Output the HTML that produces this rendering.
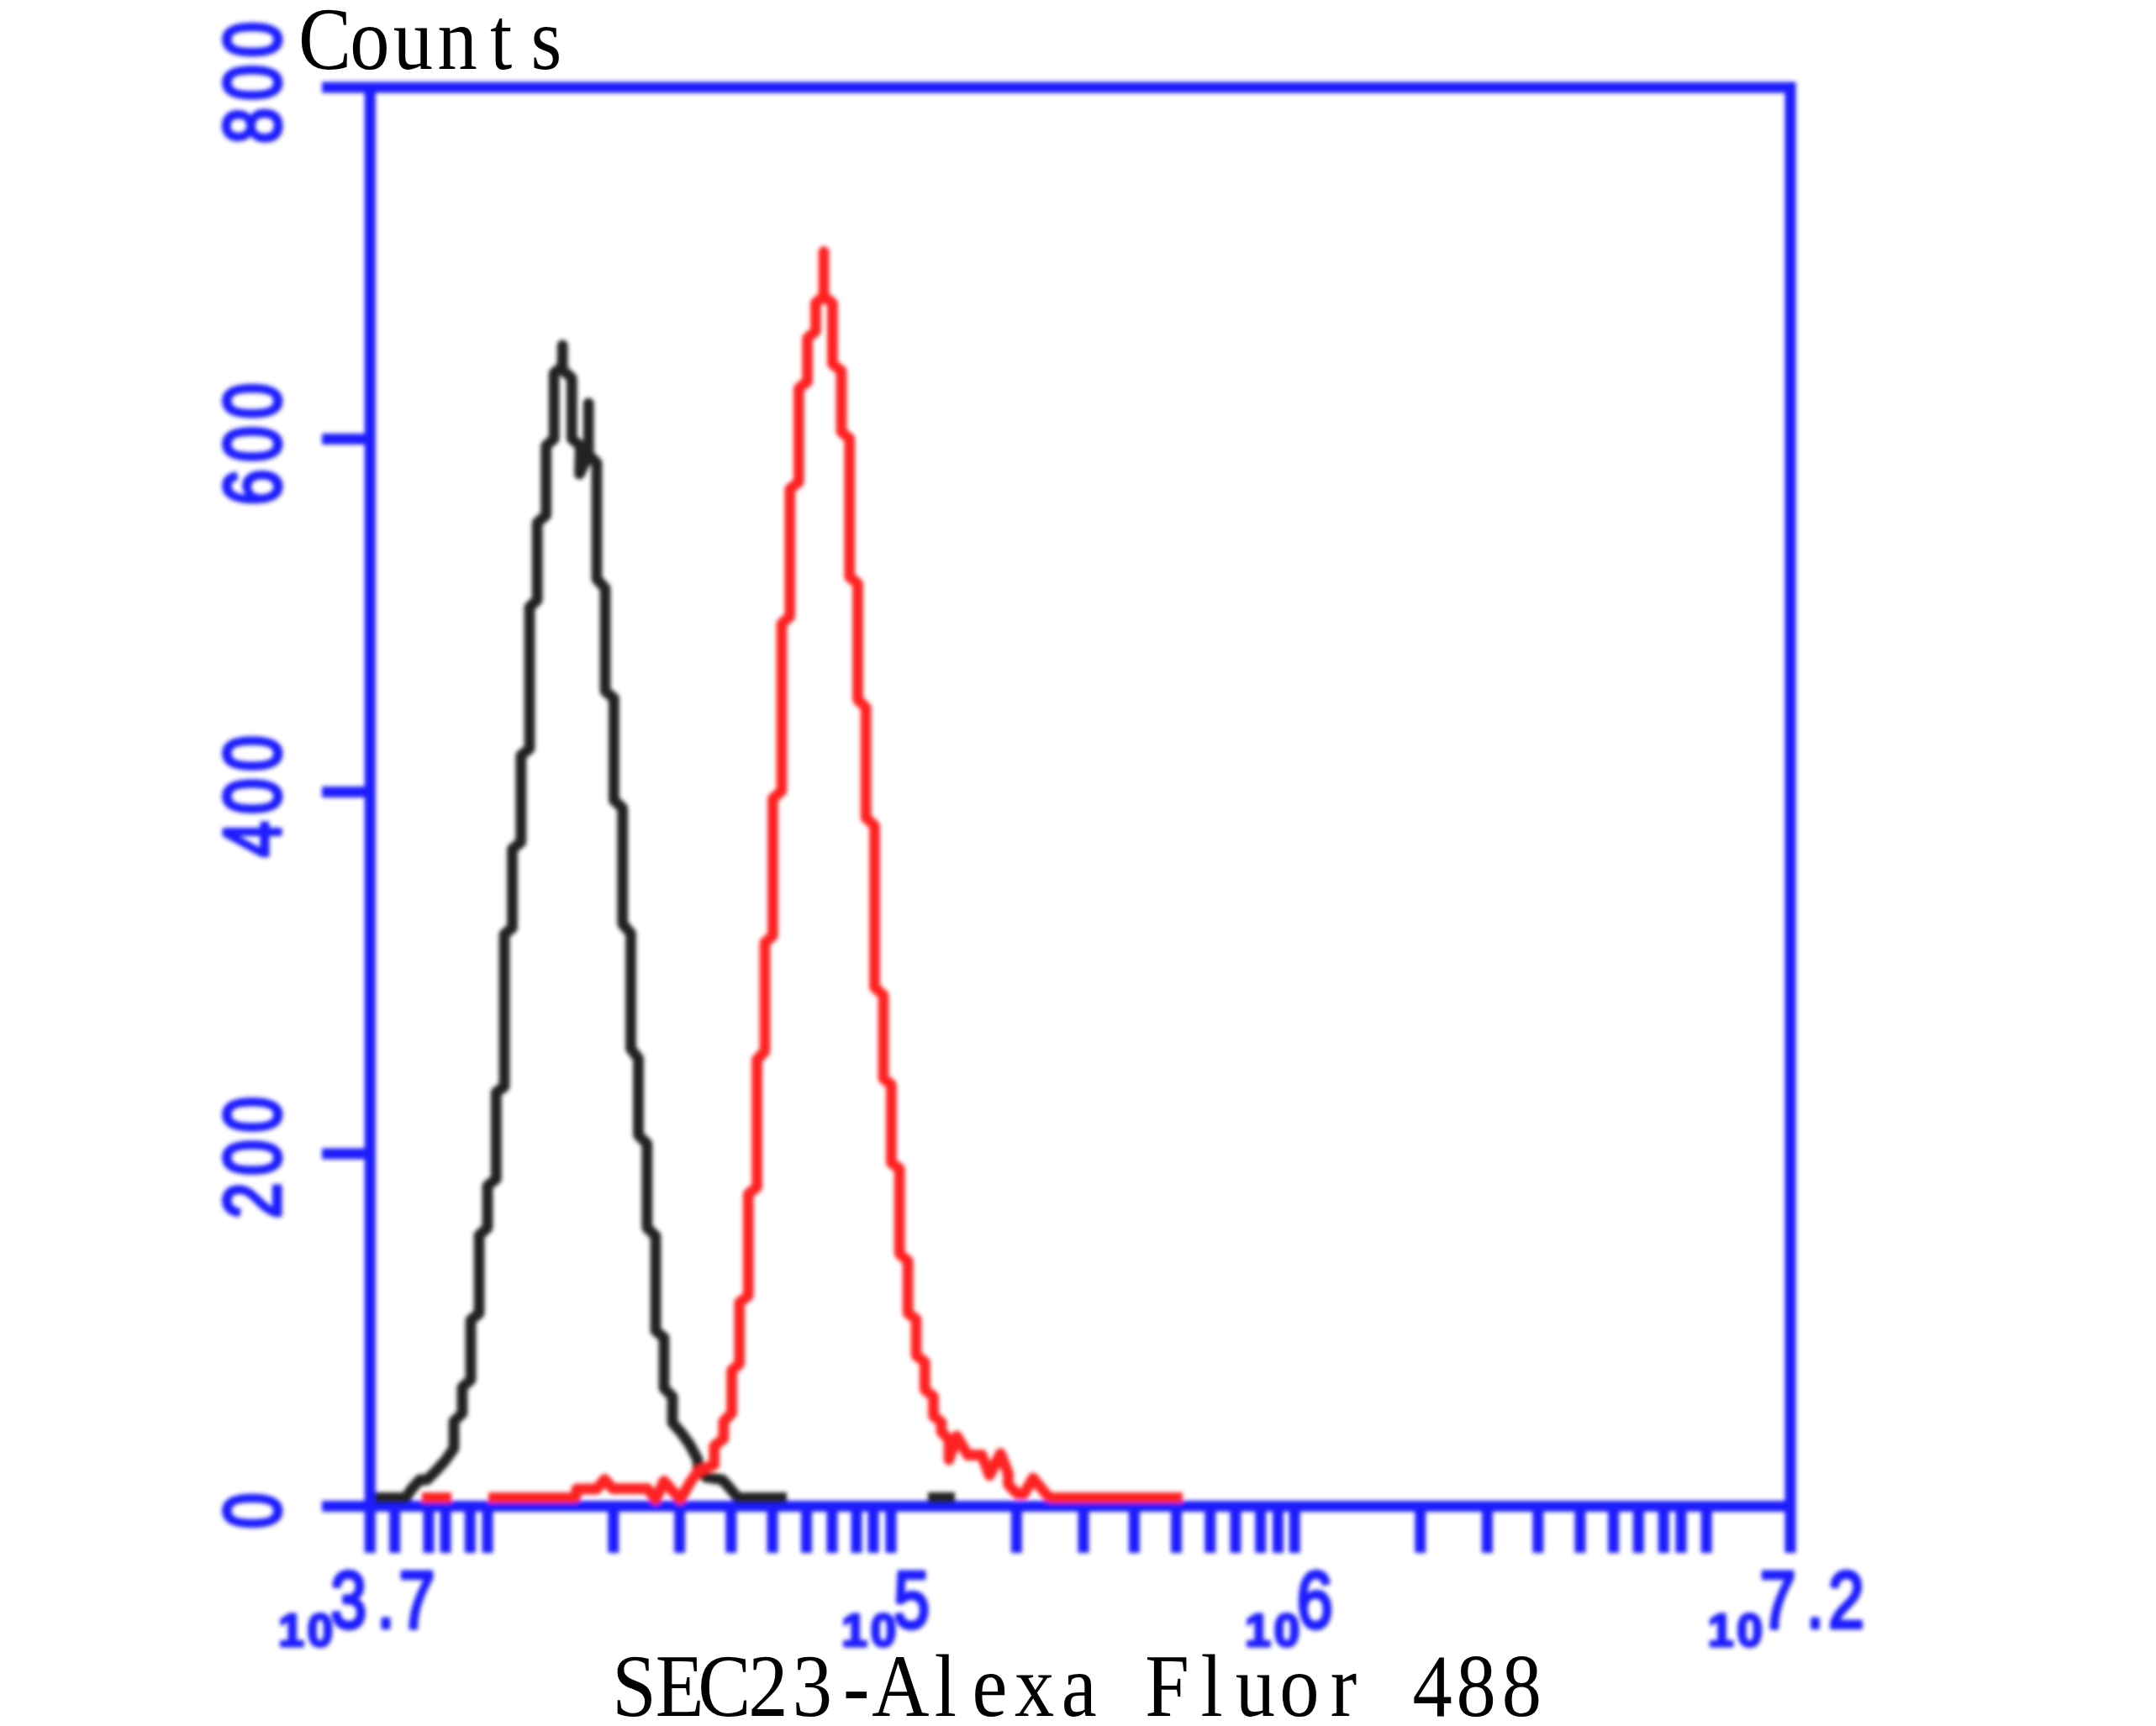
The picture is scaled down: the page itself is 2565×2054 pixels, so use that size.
<!DOCTYPE html>
<html lang="en"><head><meta charset="utf-8"><title>SEC23 flow cytometry histogram</title>
<style>
html,body{margin:0;padding:0;background:#fff;}
body{width:2565px;height:2054px;overflow:hidden;}
svg{display:block;}
.lab{font-family:"Liberation Sans",sans-serif;fill:#1c1cff;stroke:#1c1cff;stroke-width:4.5px;stroke-linejoin:round;}
.sm{font-family:"Liberation Sans",sans-serif;font-weight:bold;fill:#1c1cff;stroke:#1c1cff;stroke-width:3px;stroke-linejoin:round;}
.ttl{font-family:"Liberation Serif",serif;fill:#000;}
</style></head><body>
<svg width="2565" height="2054" viewBox="0 0 2565 2054">
<defs><filter id="soft" x="-2%" y="-2%" width="104%" height="104%"><feGaussianBlur stdDeviation="2.7"/></filter></defs>
<rect width="2565" height="2054" fill="#fff"/>
<g filter="url(#soft)">
<g stroke="#1c1cff" fill="none" stroke-linecap="butt">
<path d="M383.0,104.0 H2130.0 V1848.0" stroke-width="13.2" stroke-linejoin="miter"/>
<path d="M440.3,104.0 V1848.0" stroke-width="13.2"/>
<path d="M383.0,1792.5 H2130.0" stroke-width="13.2"/>
<path d="M383.0,522.6 H440.3M383.0,942.4 H440.3M383.0,1372.9 H440.3" stroke-width="13.0"/>
<path d="M469.6,1792.5 V1848.0M510,1792.5 V1848.0M530,1792.5 V1848.0M559.3,1792.5 V1848.0M580,1792.5 V1848.0M729.8,1792.5 V1848.0M808.6,1792.5 V1848.0M869.8,1792.5 V1848.0M919,1792.5 V1848.0M959.5,1792.5 V1848.0M990,1792.5 V1848.0M1019,1792.5 V1848.0M1039,1792.5 V1848.0M1060,1792.5 V1848.0M1209.4,1792.5 V1848.0M1289,1792.5 V1848.0M1349.4,1792.5 V1848.0M1399.5,1792.5 V1848.0M1439.8,1792.5 V1848.0M1469.9,1792.5 V1848.0M1499.7,1792.5 V1848.0M1520.5,1792.5 V1848.0M1540.2,1792.5 V1848.0M1689.8,1792.5 V1848.0M1769.4,1792.5 V1848.0M1829.8,1792.5 V1848.0M1879.9,1792.5 V1848.0M1919.6,1792.5 V1848.0M1949.3,1792.5 V1848.0M1979.2,1792.5 V1848.0M2000,1792.5 V1848.0M2030.2,1792.5 V1848.0" stroke-width="13.0"/>
</g>
<polyline points="446.0,1782.3 483.0,1782.3 488.4,1773.6 499.6,1761.0 508.0,1761.0 519.0,1750.0 530.2,1737.4 540.0,1723.5 540.0,1691.5 549.9,1682.0 549.9,1651.0 560.0,1642.0 560.0,1571.0 570.0,1563.0 570.0,1470.0 580.0,1461.0 580.0,1411.0 590.3,1403.0 590.3,1300.0 600.0,1293.0 600.0,1112.0 609.5,1104.0 609.5,1010.5 619.8,1002.0 619.8,899.0 630.0,891.0 630.0,722.5 639.2,714.0 639.2,622.0 649.7,613.0 649.7,530.5 659.2,522.0 659.2,444.0 669.2,436.0 669.2,411.0 669.2,440.0 680.3,450.0 680.3,522.0 690.5,531.0 689.5,564.0 700.2,541.0 700.2,480.0 700.2,541.0 710.0,551.0 710.0,689.0 720.0,700.0 720.0,822.6 730.4,831.0 730.4,952.0 740.7,961.8 740.7,1099.5 750.5,1110.7 750.5,1248.0 759.5,1259.5 759.5,1351.0 769.8,1361.0 769.8,1461.0 780.0,1471.0 780.0,1583.7 790.0,1592.0 790.0,1652.0 800.0,1662.0 800.0,1693.0 810.8,1705.4 820.5,1719.0 830.3,1737.4 830.3,1748.5 840.0,1758.0 859.5,1761.0 869.2,1772.0 877.6,1782.3 936.0,1782.3" fill="none" stroke="#202020" stroke-width="12.8" stroke-linejoin="round" stroke-linecap="butt" />
<polyline points="1104.0,1782.3 1136.0,1782.3" fill="none" stroke="#202020" stroke-width="12.8" stroke-linejoin="round" stroke-linecap="butt" />
<polyline points="502.0,1782.3 537.0,1782.3" fill="none" stroke="#ff2222" stroke-width="12.8" stroke-linejoin="round" stroke-linecap="butt" />
<polyline points="581.0,1782.3 684.6,1782.3 686.0,1772.0 709.7,1772.0 719.5,1760.5 728.7,1771.5 770.4,1771.5 780.0,1784.7 790.0,1762.4 809.4,1784.7 820.5,1765.0 830.0,1751.0 849.7,1743.0 849.7,1720.7 860.9,1712.0 860.9,1691.5 870.6,1681.7 870.6,1631.0 879.7,1622.7 879.7,1550.0 890.3,1542.0 890.3,1421.0 900.6,1412.6 900.6,1261.0 910.0,1251.0 910.0,1121.8 919.4,1113.5 919.4,950.6 930.0,941.0 930.0,742.0 939.7,733.7 939.7,582.0 950.3,573.6 950.3,462.3 960.6,454.0 960.6,402.5 970.4,394.0 970.4,360.7 980.1,352.4 980.1,299.5 980.1,352.4 990.4,360.7 990.4,433.0 1001.0,441.4 1001.0,513.8 1010.7,522.0 1010.7,686.3 1020.5,694.7 1020.5,832.4 1030.2,842.0 1030.2,973.0 1040.5,982.7 1040.5,1174.7 1051.0,1184.4 1051.0,1283.5 1060.4,1290.8 1060.4,1383.7 1070.2,1391.0 1070.2,1492.0 1080.2,1500.6 1080.2,1562.7 1090.0,1570.0 1090.0,1612.8 1100.3,1621.0 1100.3,1653.6 1110.5,1662.0 1110.5,1685.0 1120.0,1692.5 1120.0,1703.7 1129.0,1713.0 1129.0,1737.0 1138.3,1709.0 1151.3,1731.5 1168.0,1731.5 1177.3,1755.6 1190.3,1729.6 1199.5,1753.8 1199.5,1766.8 1210.7,1777.9 1218.0,1778.0 1229.0,1759.0 1246.0,1779.7 1250.0,1782.3 1407.0,1782.3" fill="none" stroke="#ff2222" stroke-width="12.8" stroke-linejoin="round" stroke-linecap="butt" />
<text class="lab" font-size="95.5" transform="translate(333.3,98.4) rotate(-90) scale(0.81,1)" x="-89.8 -26.5 36.7" y="0">800</text>
<text class="lab" font-size="95.5" transform="translate(333.3,528.5) rotate(-90) scale(0.81,1)" x="-90.1 -26.5 36.7" y="0">600</text>
<text class="lab" font-size="95.5" transform="translate(333.3,947.7) rotate(-90) scale(0.81,1)" x="-89.5 -26.5 36.7" y="0">400</text>
<text class="lab" font-size="95.5" transform="translate(333.3,1377.7) rotate(-90) scale(0.81,1)" x="-89.8 -26.5 36.7" y="0">200</text>
<text class="lab" font-size="95.5" transform="translate(333.3,1798.0) rotate(-90) scale(0.81,1)" x="-26.5" y="0">0</text>
<text class="sm" font-size="55.5" transform="translate(333,1958.8)" x="-1.9 32.6" y="0">10</text>
<text class="lab" font-size="95.5" transform="translate(333,1937) scale(0.81,1)" x="74.4 142.3 174.6" y="0">3.7</text>
<text class="sm" font-size="55.5" transform="translate(1003,1958.8)" x="-1.9 32.6" y="0">10</text>
<text class="lab" font-size="95.5" transform="translate(1003,1937) scale(0.81,1)" x="74.2" y="0">5</text>
<text class="sm" font-size="55.5" transform="translate(1483,1958.8)" x="-1.9 32.6" y="0">10</text>
<text class="lab" font-size="95.5" transform="translate(1483,1937) scale(0.81,1)" x="73.7" y="0">6</text>
<text class="sm" font-size="55.5" transform="translate(2033.6,1958.8)" x="-1.9 32.6" y="0">10</text>
<text class="lab" font-size="95.5" transform="translate(2033.6,1937) scale(0.81,1)" x="74.0 142.3 174.7" y="0">7.2</text>
</g>
<text class="ttl" font-size="105" transform="scale(0.9,1)" x="394.5 462.4 519.6 578.4 647.7 701.8" y="81.6">Counts</text>
<text class="ttl" font-size="105" transform="scale(0.9,1)" x="809.2 866.4 922.4 989.2 1047.4 1114.4 1152.5 1235.2 1285.0 1341.2 1403.1 1455.6 1513.7 1587.2 1633.0 1691.5 1758.5 1806.7 1867.1 1925.0 1985.3" y="2041.6">SEC23-Alexa Fluor 488</text>
</svg></body></html>
